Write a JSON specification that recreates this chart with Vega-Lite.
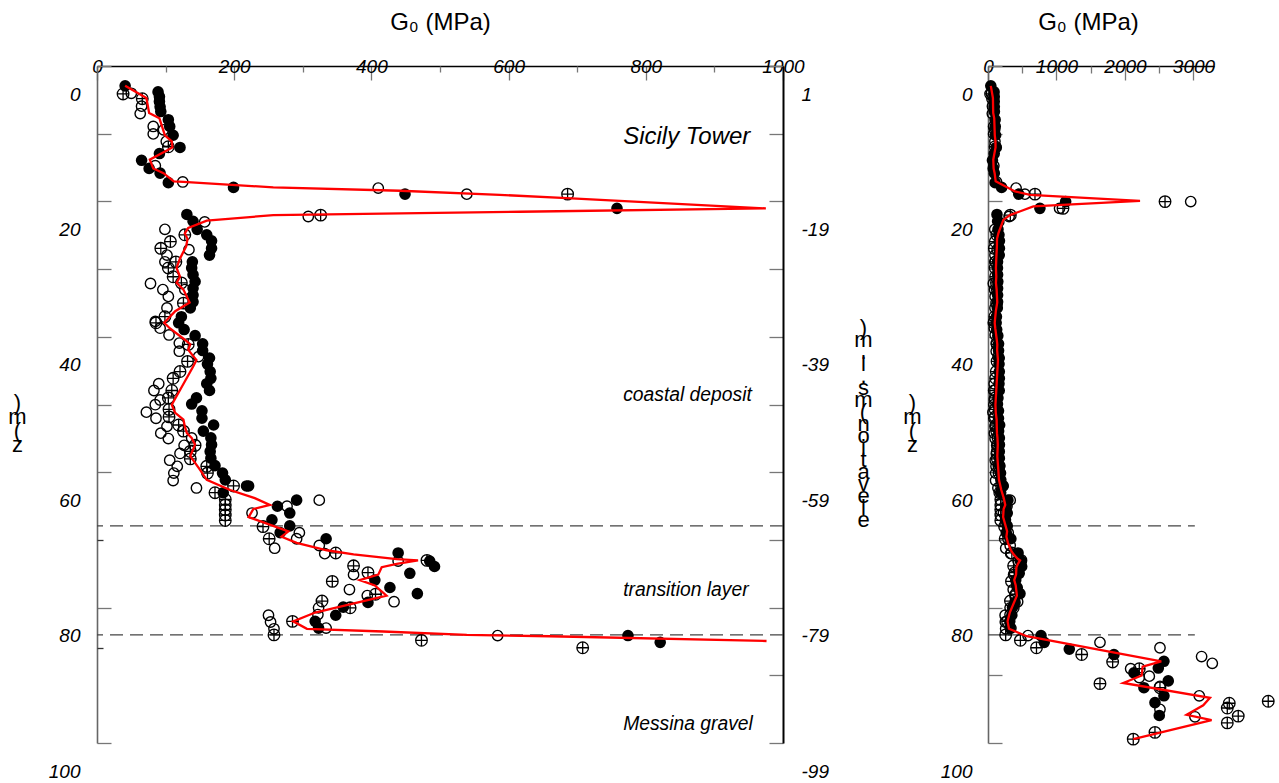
{
  "$schema": "https://vega.github.io/schema/vega-lite/v6.json",
  "background": "white",
  "padding": {"left": 7, "top": 10, "right": 5, "bottom": 5},
  "config": {
    "view": {"stroke": null},
    "font": "Liberation Sans",
    "axis": {
      "grid": false,
      "labelFont": "Liberation Sans",
      "labelFontStyle": "italic",
      "labelFontSize": 19,
      "labelColor": "black",
      "titleFont": "Liberation Sans",
      "titleFontWeight": "normal",
      "titleColor": "black",
      "tickColor": "#777",
      "tickWidth": 1.3,
      "domainWidth": 1.5,
      "labelOverlap": false,
      "labelFlush": false,
      "labelBound": false
    }
  },
  "datasets": {
    "obs": [
      {"z": -1.2, "g0": 41, "marker": "filled"}, {"z": -0.3, "g0": 89, "marker": "filled"}, {"z": 0.4, "g0": 91, "marker": "filled"},
      {"z": 1.1, "g0": 91, "marker": "filled"}, {"z": 1.9, "g0": 92, "marker": "filled"}, {"z": 2.6, "g0": 93, "marker": "filled"},
      {"z": 3.8, "g0": 104, "marker": "filled"}, {"z": 4.8, "g0": 106, "marker": "filled"}, {"z": 6.1, "g0": 111, "marker": "filled"},
      {"z": 7.9, "g0": 121, "marker": "filled"}, {"z": 8.8, "g0": 91, "marker": "filled"}, {"z": 9.8, "g0": 65, "marker": "filled"},
      {"z": 11.0, "g0": 76, "marker": "filled"}, {"z": 11.7, "g0": 92, "marker": "filled"}, {"z": 13.1, "g0": 104, "marker": "filled"},
      {"z": 13.8, "g0": 199, "marker": "filled"}, {"z": 14.8, "g0": 449, "marker": "filled"}, {"z": 16.9, "g0": 758, "marker": "filled"},
      {"z": 15.9, "g0": 1134, "marker": "filled"},
      {"z": 17.8, "g0": 131, "marker": "filled"}, {"z": 18.8, "g0": 140, "marker": "filled"}, {"z": 20.0, "g0": 146, "marker": "filled"},
      {"z": 20.8, "g0": 160, "marker": "filled"}, {"z": 21.7, "g0": 167, "marker": "filled"}, {"z": 22.8, "g0": 167, "marker": "filled"},
      {"z": 23.8, "g0": 164, "marker": "filled"}, {"z": 24.8, "g0": 139, "marker": "filled"}, {"z": 25.7, "g0": 138, "marker": "filled"},
      {"z": 26.7, "g0": 140, "marker": "filled"}, {"z": 27.7, "g0": 143, "marker": "filled"}, {"z": 28.7, "g0": 140, "marker": "filled"},
      {"z": 29.7, "g0": 140, "marker": "filled"}, {"z": 30.7, "g0": 140, "marker": "filled"}, {"z": 31.6, "g0": 136, "marker": "filled"},
      {"z": 32.9, "g0": 123, "marker": "filled"}, {"z": 33.8, "g0": 119, "marker": "filled"}, {"z": 34.8, "g0": 127, "marker": "filled"},
      {"z": 35.7, "g0": 143, "marker": "filled"}, {"z": 36.9, "g0": 154, "marker": "filled"}, {"z": 37.9, "g0": 154, "marker": "filled"},
      {"z": 39.0, "g0": 164, "marker": "filled"}, {"z": 39.9, "g0": 161, "marker": "filled"}, {"z": 41.0, "g0": 165, "marker": "filled"},
      {"z": 42.0, "g0": 166, "marker": "filled"}, {"z": 42.8, "g0": 160, "marker": "filled"}, {"z": 43.8, "g0": 164, "marker": "filled"},
      {"z": 44.9, "g0": 145, "marker": "filled"}, {"z": 45.8, "g0": 138, "marker": "filled"}, {"z": 46.8, "g0": 153, "marker": "filled"},
      {"z": 47.9, "g0": 153, "marker": "filled"}, {"z": 48.9, "g0": 170, "marker": "filled"}, {"z": 49.8, "g0": 155, "marker": "filled"},
      {"z": 50.8, "g0": 166, "marker": "filled"}, {"z": 51.8, "g0": 167, "marker": "filled"}, {"z": 52.8, "g0": 165, "marker": "filled"},
      {"z": 53.8, "g0": 166, "marker": "filled"}, {"z": 54.9, "g0": 172, "marker": "filled"}, {"z": 56.0, "g0": 183, "marker": "filled"},
      {"z": 57.0, "g0": 187, "marker": "filled"}, {"z": 57.9, "g0": 218, "marker": "filled"}, {"z": 57.9, "g0": 221, "marker": "filled"},
      {"z": 58.9, "g0": 184, "marker": "filled"}, {"z": 60.0, "g0": 291, "marker": "filled"}, {"z": 60.9, "g0": 263, "marker": "filled"},
      {"z": 61.9, "g0": 281, "marker": "filled"}, {"z": 62.9, "g0": 255, "marker": "filled"}, {"z": 63.8, "g0": 281, "marker": "filled"},
      {"z": 64.8, "g0": 267, "marker": "filled"}, {"z": 65.7, "g0": 334, "marker": "filled"}, {"z": 67.8, "g0": 439, "marker": "filled"},
      {"z": 69.0, "g0": 485, "marker": "filled"}, {"z": 69.8, "g0": 492, "marker": "filled"}, {"z": 70.8, "g0": 456, "marker": "filled"},
      {"z": 71.8, "g0": 405, "marker": "filled"}, {"z": 72.9, "g0": 427, "marker": "filled"}, {"z": 73.8, "g0": 467, "marker": "filled"},
      {"z": 75.1, "g0": 395, "marker": "filled"}, {"z": 75.8, "g0": 359, "marker": "filled"}, {"z": 77.0, "g0": 348, "marker": "filled"},
      {"z": 77.9, "g0": 318, "marker": "filled"}, {"z": 78.9, "g0": 323, "marker": "filled"}, {"z": 80.0, "g0": 774, "marker": "filled"},
      {"z": 81.0, "g0": 821, "marker": "filled"}, {"z": 82.0, "g0": 1187, "marker": "filled"}, {"z": 82.8, "g0": 1839, "marker": "filled"},
      {"z": 83.8, "g0": 2569, "marker": "filled"}, {"z": 84.8, "g0": 2487, "marker": "filled"}, {"z": 85.5, "g0": 2131, "marker": "filled"},
      {"z": 86.7, "g0": 2632, "marker": "filled"}, {"z": 87.7, "g0": 2277, "marker": "filled"}, {"z": 88.9, "g0": 2569, "marker": "filled"},
      {"z": 89.9, "g0": 2438, "marker": "filled"}, {"z": 91.8, "g0": 2501, "marker": "filled"},

      {"z": -0.1, "g0": 50, "marker": "open"}, {"z": 1.8, "g0": 65, "marker": "open"}, {"z": 2.9, "g0": 63, "marker": "open"},
      {"z": 4.8, "g0": 82, "marker": "open"}, {"z": 5.9, "g0": 82, "marker": "open"}, {"z": 5.3, "g0": 97, "marker": "open"},
      {"z": 7.0, "g0": 101, "marker": "open"}, {"z": 10.6, "g0": 85, "marker": "open"}, {"z": 13.0, "g0": 125, "marker": "open"},
      {"z": 13.9, "g0": 410, "marker": "open"}, {"z": 14.8, "g0": 539, "marker": "open"}, {"z": 16.9, "g0": 1045, "marker": "open"},
      {"z": 15.9, "g0": 2960, "marker": "open"}, {"z": 18.1, "g0": 308, "marker": "open"}, {"z": 18.9, "g0": 157, "marker": "open"},
      {"z": 20.0, "g0": 99, "marker": "open"}, {"z": 23.0, "g0": 134, "marker": "open"}, {"z": 23.8, "g0": 102, "marker": "open"},
      {"z": 24.8, "g0": 99, "marker": "open"}, {"z": 28.0, "g0": 78, "marker": "open"}, {"z": 28.9, "g0": 96, "marker": "open"},
      {"z": 29.9, "g0": 104, "marker": "open"}, {"z": 28.9, "g0": 128, "marker": "open"}, {"z": 31.6, "g0": 102, "marker": "open"},
      {"z": 33.6, "g0": 85, "marker": "open"}, {"z": 34.6, "g0": 92, "marker": "open"}, {"z": 35.6, "g0": 105, "marker": "open"},
      {"z": 36.8, "g0": 120, "marker": "open"}, {"z": 38.0, "g0": 120, "marker": "open"}, {"z": 38.8, "g0": 148, "marker": "open"},
      {"z": 42.8, "g0": 90, "marker": "open"}, {"z": 43.8, "g0": 83, "marker": "open"}, {"z": 45.2, "g0": 92, "marker": "open"},
      {"z": 45.9, "g0": 85, "marker": "open"}, {"z": 47.0, "g0": 72, "marker": "open"}, {"z": 47.9, "g0": 86, "marker": "open"},
      {"z": 49.1, "g0": 102, "marker": "open"}, {"z": 50.1, "g0": 93, "marker": "open"}, {"z": 50.9, "g0": 104, "marker": "open"},
      {"z": 50.8, "g0": 138, "marker": "open"}, {"z": 51.9, "g0": 127, "marker": "open"}, {"z": 53.1, "g0": 121, "marker": "open"},
      {"z": 54.1, "g0": 106, "marker": "open"}, {"z": 55.0, "g0": 117, "marker": "open"}, {"z": 56.0, "g0": 112, "marker": "open"},
      {"z": 57.1, "g0": 111, "marker": "open"}, {"z": 58.2, "g0": 145, "marker": "open"}, {"z": 60.0, "g0": 324, "marker": "open"},
      {"z": 60.9, "g0": 277, "marker": "open"}, {"z": 61.9, "g0": 226, "marker": "open"}, {"z": 64.8, "g0": 295, "marker": "open"},
      {"z": 65.7, "g0": 291, "marker": "open"}, {"z": 67.1, "g0": 259, "marker": "open"}, {"z": 66.7, "g0": 324, "marker": "open"},
      {"z": 67.9, "g0": 332, "marker": "open"}, {"z": 69.0, "g0": 439, "marker": "open"}, {"z": 71.0, "g0": 374, "marker": "open"},
      {"z": 73.2, "g0": 368, "marker": "open"}, {"z": 74.1, "g0": 394, "marker": "open"}, {"z": 75.0, "g0": 433, "marker": "open"},
      {"z": 75.9, "g0": 323, "marker": "open"}, {"z": 76.9, "g0": 322, "marker": "open"}, {"z": 78.9, "g0": 334, "marker": "open"},
      {"z": 77.0, "g0": 250, "marker": "open"}, {"z": 78.0, "g0": 253, "marker": "open"}, {"z": 79.0, "g0": 258, "marker": "open"},
      {"z": 80.0, "g0": 584, "marker": "open"}, {"z": 81.0, "g0": 1635, "marker": "open"}, {"z": 81.8, "g0": 2511, "marker": "open"},
      {"z": 83.1, "g0": 3119, "marker": "open"}, {"z": 84.1, "g0": 3275, "marker": "open"}, {"z": 84.9, "g0": 2083, "marker": "open"},
      {"z": 86.2, "g0": 2209, "marker": "open"}, {"z": 86.0, "g0": 2355, "marker": "open"}, {"z": 87.5, "g0": 2511, "marker": "open"},
      {"z": 88.9, "g0": 3085, "marker": "open"}, {"z": 90.9, "g0": 2511, "marker": "open"}, {"z": 92.0, "g0": 3022, "marker": "open"},

      {"z": 0.0, "g0": 38, "marker": "crossed"}, {"z": 0.7, "g0": 66, "marker": "crossed"}, {"z": 7.8, "g0": 104, "marker": "crossed"},
      {"z": 14.8, "g0": 686, "marker": "crossed"}, {"z": 16.9, "g0": 1095, "marker": "crossed"}, {"z": 15.9, "g0": 2585, "marker": "crossed"},
      {"z": 17.9, "g0": 326, "marker": "crossed"}, {"z": 20.8, "g0": 128, "marker": "crossed"}, {"z": 21.8, "g0": 107, "marker": "crossed"},
      {"z": 22.8, "g0": 93, "marker": "crossed"}, {"z": 24.8, "g0": 115, "marker": "crossed"}, {"z": 25.7, "g0": 104, "marker": "crossed"},
      {"z": 27.0, "g0": 111, "marker": "crossed"}, {"z": 27.9, "g0": 123, "marker": "crossed"}, {"z": 30.9, "g0": 126, "marker": "crossed"},
      {"z": 32.9, "g0": 99, "marker": "crossed"}, {"z": 33.8, "g0": 86, "marker": "crossed"}, {"z": 37.0, "g0": 133, "marker": "crossed"},
      {"z": 39.5, "g0": 132, "marker": "crossed"}, {"z": 41.0, "g0": 121, "marker": "crossed"}, {"z": 42.0, "g0": 111, "marker": "crossed"},
      {"z": 43.8, "g0": 109, "marker": "crossed"}, {"z": 44.9, "g0": 104, "marker": "crossed"}, {"z": 46.6, "g0": 105, "marker": "crossed"},
      {"z": 47.7, "g0": 105, "marker": "crossed"}, {"z": 48.9, "g0": 119, "marker": "crossed"}, {"z": 49.8, "g0": 126, "marker": "crossed"},
      {"z": 51.9, "g0": 143, "marker": "crossed"}, {"z": 52.8, "g0": 136, "marker": "crossed"}, {"z": 53.9, "g0": 136, "marker": "crossed"},
      {"z": 55.0, "g0": 160, "marker": "crossed"}, {"z": 56.0, "g0": 161, "marker": "crossed"}, {"z": 57.9, "g0": 199, "marker": "crossed"},
      {"z": 58.9, "g0": 172, "marker": "crossed"}, {"z": 59.9, "g0": 187, "marker": "crossed"}, {"z": 60.7, "g0": 187, "marker": "crossed"},
      {"z": 61.4, "g0": 187, "marker": "crossed"}, {"z": 62.2, "g0": 187, "marker": "crossed"}, {"z": 63.0, "g0": 187, "marker": "crossed"},
      {"z": 63.9, "g0": 242, "marker": "crossed"}, {"z": 65.7, "g0": 251, "marker": "crossed"}, {"z": 67.8, "g0": 348, "marker": "crossed"},
      {"z": 68.9, "g0": 481, "marker": "crossed"}, {"z": 69.7, "g0": 374, "marker": "crossed"}, {"z": 70.7, "g0": 395, "marker": "crossed"},
      {"z": 72.0, "g0": 343, "marker": "crossed"}, {"z": 73.9, "g0": 406, "marker": "crossed"}, {"z": 74.9, "g0": 328, "marker": "crossed"},
      {"z": 75.9, "g0": 369, "marker": "crossed"}, {"z": 77.9, "g0": 285, "marker": "crossed"}, {"z": 79.9, "g0": 258, "marker": "crossed"},
      {"z": 80.7, "g0": 473, "marker": "crossed"}, {"z": 81.8, "g0": 708, "marker": "crossed"}, {"z": 82.8, "g0": 1368, "marker": "crossed"},
      {"z": 83.9, "g0": 1820, "marker": "crossed"}, {"z": 84.9, "g0": 2209, "marker": "crossed"}, {"z": 87.1, "g0": 1635, "marker": "crossed"},
      {"z": 87.7, "g0": 2511, "marker": "crossed"}, {"z": 90.0, "g0": 3523, "marker": "crossed"}, {"z": 90.7, "g0": 3494, "marker": "crossed"},
      {"z": 89.7, "g0": 4092, "marker": "crossed"}, {"z": 91.9, "g0": 3654, "marker": "crossed"}, {"z": 92.9, "g0": 3494, "marker": "crossed"},
      {"z": 94.3, "g0": 2438, "marker": "crossed"}, {"z": 95.3, "g0": 2121, "marker": "crossed"}
    ],
    "profile_shallow": [
      {"z": -1.2, "g0": 41}, {"z": 0.6, "g0": 72}, {"z": 2.8, "g0": 76}, {"z": 3.6, "g0": 91}, {"z": 6.1, "g0": 99},
      {"z": 7.0, "g0": 109}, {"z": 7.9, "g0": 110}, {"z": 9.7, "g0": 77}, {"z": 11.0, "g0": 82}, {"z": 11.7, "g0": 97},
      {"z": 12.9, "g0": 112}, {"z": 13.0, "g0": 126}, {"z": 13.8, "g0": 257}, {"z": 14.3, "g0": 442}, {"z": 14.9, "g0": 587},
      {"z": 15.4, "g0": 685}, {"z": 16.9, "g0": 975}, {"z": 17.4, "g0": 617}, {"z": 17.9, "g0": 257}, {"z": 18.7, "g0": 160},
      {"z": 19.8, "g0": 133}, {"z": 20.6, "g0": 128}, {"z": 21.4, "g0": 132}, {"z": 22.5, "g0": 130}, {"z": 24.3, "g0": 121},
      {"z": 25.7, "g0": 116}, {"z": 27.0, "g0": 121}, {"z": 27.9, "g0": 116}, {"z": 28.9, "g0": 126}, {"z": 30.8, "g0": 135},
      {"z": 32.1, "g0": 114}, {"z": 33.8, "g0": 98}, {"z": 34.6, "g0": 106}, {"z": 36.3, "g0": 128}, {"z": 37.0, "g0": 136},
      {"z": 37.8, "g0": 133}, {"z": 39.3, "g0": 145}, {"z": 40.3, "g0": 140}, {"z": 45.9, "g0": 109}, {"z": 47.1, "g0": 114},
      {"z": 48.1, "g0": 126}, {"z": 49.1, "g0": 128}, {"z": 50.1, "g0": 131}, {"z": 50.8, "g0": 138}, {"z": 51.8, "g0": 143},
      {"z": 53.5, "g0": 136}, {"z": 54.5, "g0": 143}, {"z": 55.5, "g0": 150}, {"z": 57.0, "g0": 160}, {"z": 58.5, "g0": 194},
      {"z": 59.7, "g0": 230}, {"z": 60.7, "g0": 252}, {"z": 61.3, "g0": 228}, {"z": 62.5, "g0": 221}, {"z": 64.6, "g0": 279},
      {"z": 65.4, "g0": 269}, {"z": 66.3, "g0": 291}, {"z": 67.4, "g0": 335}, {"z": 68.0, "g0": 374}, {"z": 68.7, "g0": 437},
      {"z": 68.9, "g0": 468}, {"z": 69.4, "g0": 437}, {"z": 69.9, "g0": 415}, {"z": 71.0, "g0": 410}, {"z": 71.8, "g0": 383},
      {"z": 72.6, "g0": 405}, {"z": 74.1, "g0": 422}, {"z": 76.6, "g0": 318}, {"z": 77.9, "g0": 286}, {"z": 79.0, "g0": 306},
      {"z": 79.4, "g0": 417}, {"z": 79.9, "g0": 539}, {"z": 80.1, "g0": 660}, {"z": 80.8, "g0": 976}
    ],
    "profile_full": [
      {"z": -1.2, "g0": 41}, {"z": 0.6, "g0": 72}, {"z": 2.8, "g0": 76}, {"z": 3.6, "g0": 91}, {"z": 6.1, "g0": 99},
      {"z": 7.0, "g0": 109}, {"z": 7.9, "g0": 110}, {"z": 9.7, "g0": 77}, {"z": 11.0, "g0": 82}, {"z": 11.7, "g0": 97},
      {"z": 12.9, "g0": 112}, {"z": 14.4, "g0": 394}, {"z": 14.9, "g0": 613}, {"z": 15.8, "g0": 2220}, {"z": 16.6, "g0": 662},
      {"z": 17.9, "g0": 321}, {"z": 18.6, "g0": 224}, {"z": 20.6, "g0": 151}, {"z": 21.4, "g0": 132}, {"z": 22.5, "g0": 130},
      {"z": 24.3, "g0": 121}, {"z": 25.7, "g0": 116}, {"z": 27.0, "g0": 121}, {"z": 27.9, "g0": 116}, {"z": 28.9, "g0": 126},
      {"z": 30.8, "g0": 135}, {"z": 32.1, "g0": 114}, {"z": 33.8, "g0": 98}, {"z": 34.6, "g0": 106}, {"z": 36.3, "g0": 128},
      {"z": 37.0, "g0": 136}, {"z": 37.8, "g0": 133}, {"z": 39.3, "g0": 145}, {"z": 40.3, "g0": 140}, {"z": 45.9, "g0": 109},
      {"z": 47.1, "g0": 114}, {"z": 48.1, "g0": 126}, {"z": 49.1, "g0": 128}, {"z": 50.1, "g0": 131}, {"z": 50.8, "g0": 138},
      {"z": 51.8, "g0": 143}, {"z": 53.5, "g0": 136}, {"z": 54.5, "g0": 143}, {"z": 55.5, "g0": 150}, {"z": 57.0, "g0": 160},
      {"z": 58.5, "g0": 194}, {"z": 59.7, "g0": 230}, {"z": 60.7, "g0": 252}, {"z": 61.3, "g0": 228}, {"z": 62.5, "g0": 221},
      {"z": 64.6, "g0": 279}, {"z": 65.4, "g0": 269}, {"z": 66.3, "g0": 291}, {"z": 67.4, "g0": 335}, {"z": 68.0, "g0": 374},
      {"z": 68.7, "g0": 437}, {"z": 68.9, "g0": 468}, {"z": 69.4, "g0": 437}, {"z": 69.9, "g0": 415}, {"z": 71.0, "g0": 410},
      {"z": 71.8, "g0": 383}, {"z": 72.6, "g0": 405}, {"z": 74.1, "g0": 422}, {"z": 76.6, "g0": 318}, {"z": 77.9, "g0": 286},
      {"z": 79.0, "g0": 306}, {"z": 80.1, "g0": 565}, {"z": 83.8, "g0": 2530}, {"z": 84.6, "g0": 2258}, {"z": 85.9, "g0": 2244},
      {"z": 87.0, "g0": 1975}, {"z": 89.2, "g0": 3241}, {"z": 90.3, "g0": 3143}, {"z": 91.7, "g0": 2900}, {"z": 92.5, "g0": 3265},
      {"z": 95.3, "g0": 2121}
    ],
    "boundaries": [{"z": 63.8}, {"z": 79.9}],
    "site": [{"label": "Sicily Tower", "g0": 767, "z": 6.3}],
    "units": [
      {"label": "coastal deposit", "g0": 767, "z": 44.4},
      {"label": "transition layer", "g0": 767, "z": 73.2},
      {"label": "Messina gravel", "g0": 767, "z": 93.0}
    ]
  },
  "bounds": "flush",
  "spacing": 205,
  "hconcat": [
    {
      "width": 686,
      "height": 677,
      "resolve": {"axis": {"x": "independent", "y": "independent"}},
      "layer": [
        {
          "data": {"name": "boundaries"},
          "mark": {"type": "rule", "color": "#444", "strokeWidth": 1.2, "strokeDash": [13, 7]},
          "encoding": {
            "y": {
              "field": "z", "type": "quantitative",
              "scale": {"domain": [-4.13, 95.87], "reverse": true, "nice": false, "zero": false},
              "axis": {
                "orient": "right",
                "values": [-4.13, 5.87, 15.87, 25.87, 35.87, 45.87, 55.87, 65.87, 75.87, 85.87, 95.87],
                "labelExpr": "round(datum.value + 4.13) % 20 == 0 ? '' + (1 - round(datum.value + 4.13)) : ''",
                "labelOffset": 28,
                "tickSize": -14,
                "labelPadding": 32,
                "labelAlign": "left",
                "labelBaseline": "middle",
                "domainColor": "black",
                "domainWidth": 2,
                "title": [")", "m", ".", "l", ".", "s", "m", "(", "n", "o", "i", "t", "a", "v", "e", "l", "e"],
                "titleAngle": 0,
                "titleX": 80,
                "titleY": 251,
                "titleAlign": "center",
                "titleBaseline": "top",
                "titleFontSize": 22,
                "titleLineHeight": 12
              }
            }
          }
        },
        {
          "data": {"name": "obs"},
          "transform": [{"filter": "datum.marker == 'filled' && datum.g0 <= 1000"}],
          "mark": {"type": "point", "shape": "circle", "filled": true, "color": "black", "size": 135, "opacity": 1},
          "encoding": {
            "x": {
              "field": "g0", "type": "quantitative",
              "scale": {"domain": [0, 1000], "nice": false, "zero": false},
              "axis": {
                "orient": "top",
                "values": [0, 200, 400, 600, 800, 1000],
                "format": "d",
                "tickSize": -14,
                "labelPadding": 14,
                "labelBaseline": "middle",
                "labelAlign": "center",
                "domainColor": "black",
                "domainWidth": 1.3,
                "title": "G₀ (MPa)",
                "titleX": 343,
                "titleY": -44,
                "titleAlign": "center",
                "titleBaseline": "middle",
                "titleFontSize": 24
              }
            },
            "y": {
              "field": "z", "type": "quantitative",
              "scale": {"domain": [-4.13, 95.87], "reverse": true, "nice": false, "zero": false},
              "axis": {
                "orient": "left",
                "values": [-4.13, 5.87, 15.87, 25.87, 35.87, 45.87, 55.87, 75.87, 95.87],
                "labelExpr": "round(datum.value + 4.13) % 20 == 0 ? '' + round(datum.value + 4.13) : ''",
                "labelOffset": 28,
                "tickSize": -14,
                "labelPadding": 31,
                "labelAlign": "right",
                "labelBaseline": "middle",
                "domainColor": "#666",
                "domainWidth": 1.6,
                "title": [")", "m", "(", "z"],
                "titleAngle": 0,
                "titleX": -80,
                "titleY": 326,
                "titleAlign": "center",
                "titleBaseline": "top",
                "titleFontSize": 22,
                "titleLineHeight": 14
              }
            }
          }
        },
        {
          "data": {"name": "obs"},
          "transform": [{"filter": "datum.marker == 'open' && datum.g0 <= 1000"}],
          "mark": {"type": "point", "shape": "circle", "filled": false, "stroke": "black", "strokeWidth": 1.4, "size": 108, "opacity": 1},
          "encoding": {
            "x": {
              "field": "g0", "type": "quantitative",
              "scale": {"domain": [0, 1000], "nice": false, "zero": false},
              "axis": {"orient": "top", "values": [100, 300, 500, 700, 900], "tickSize": -6, "labels": false, "domain": false, "title": null}
            },
            "y": {
              "field": "z", "type": "quantitative",
              "scale": {"domain": [-4.13, 95.87], "reverse": true, "nice": false, "zero": false},
              "axis": null
            }
          }
        },
        {
          "data": {"name": "obs"},
          "transform": [{"filter": "datum.marker == 'crossed' && datum.g0 <= 1000"}],
          "mark": {"type": "point", "shape": "M-1,0A1,1,0,1,1,1,0A1,1,0,1,1,-1,0ZM-1,0L1,0M0,-1L0,1", "filled": false, "stroke": "black", "strokeWidth": 1.3, "size": 135, "opacity": 1},
          "encoding": {
            "x": {
              "field": "g0", "type": "quantitative",
              "scale": {"domain": [0, 1000], "nice": false, "zero": false},
              "axis": null
            },
            "y": {
              "field": "z", "type": "quantitative",
              "scale": {"domain": [-4.13, 95.87], "reverse": true, "nice": false, "zero": false},
              "axis": {"orient": "left", "values": [65.87, 81.9], "tickSize": -6, "tickColor": "#333", "labels": false, "domain": false, "title": null}
            }
          }
        },
        {
          "data": {"name": "profile_shallow"},
          "mark": {"type": "line", "color": "#ff0000", "strokeWidth": 2.3},
          "encoding": {
            "x": {"field": "g0", "type": "quantitative", "scale": {"domain": [0, 1000], "nice": false, "zero": false}, "axis": null},
            "y": {"field": "z", "type": "quantitative", "scale": {"domain": [-4.13, 95.87], "reverse": true, "nice": false, "zero": false}, "axis": null},
            "order": {"field": "z", "type": "quantitative"}
          }
        },
        {
          "data": {"name": "site"},
          "mark": {"type": "text", "align": "left", "baseline": "middle", "font": "Liberation Sans", "fontStyle": "italic", "fontSize": 24, "color": "black"},
          "encoding": {
            "x": {"field": "g0", "type": "quantitative", "scale": {"domain": [0, 1000], "nice": false, "zero": false}, "axis": null},
            "y": {"field": "z", "type": "quantitative", "scale": {"domain": [-4.13, 95.87], "reverse": true, "nice": false, "zero": false}, "axis": null},
            "text": {"field": "label"}
          }
        },
        {
          "data": {"name": "units"},
          "mark": {"type": "text", "align": "left", "baseline": "middle", "font": "Liberation Sans", "fontStyle": "italic", "fontSize": 19.3, "color": "black"},
          "encoding": {
            "x": {"field": "g0", "type": "quantitative", "scale": {"domain": [0, 1000], "nice": false, "zero": false}, "axis": null},
            "y": {"field": "z", "type": "quantitative", "scale": {"domain": [-4.13, 95.87], "reverse": true, "nice": false, "zero": false}, "axis": null},
            "text": {"field": "label"}
          }
        }
      ]
    },
    {
      "width": 226,
      "height": 677,
      "resolve": {"axis": {"x": "independent", "y": "independent"}},
      "layer": [
        {
          "data": {"name": "boundaries"},
          "mark": {"type": "rule", "color": "#444", "strokeWidth": 1.2, "strokeDash": [13, 7]},
          "encoding": {
            "x": {"datum": 0, "type": "quantitative", "scale": {"domain": [0, 3300], "nice": false, "zero": false}, "axis": null},
            "x2": {"datum": 3020},
            "y": {"field": "z", "type": "quantitative", "scale": {"domain": [-4.13, 95.87], "reverse": true, "nice": false, "zero": false}, "axis": null}
          }
        },
        {
          "data": {"name": "obs"},
          "transform": [{"filter": "datum.marker == 'filled'"}],
          "mark": {"type": "point", "shape": "circle", "filled": true, "color": "black", "size": 135, "opacity": 1},
          "encoding": {
            "x": {
              "field": "g0", "type": "quantitative",
              "scale": {"domain": [0, 3300], "nice": false, "zero": false},
              "axis": {
                "orient": "top",
                "values": [0, 1000, 2000, 3000],
                "format": "d",
                "tickSize": -14,
                "labelPadding": 14,
                "labelBaseline": "middle",
                "labelAlign": "center",
                "domainColor": "black",
                "domainWidth": 1.3,
                "title": "G₀ (MPa)",
                "titleX": 100,
                "titleY": -44,
                "titleAlign": "center",
                "titleBaseline": "middle",
                "titleFontSize": 24
              }
            },
            "y": {
              "field": "z", "type": "quantitative",
              "scale": {"domain": [-4.13, 95.87], "reverse": true, "nice": false, "zero": false},
              "axis": {
                "orient": "left",
                "values": [-4.13, 5.87, 15.87, 25.87, 35.87, 45.87, 55.87, 65.87, 75.87, 85.87, 95.87],
                "labelExpr": "round(datum.value + 4.13) % 20 == 0 ? '' + round(datum.value + 4.13) : ''",
                "labelOffset": 28,
                "tickSize": -14,
                "labelPadding": 30,
                "labelAlign": "right",
                "labelBaseline": "middle",
                "domainColor": "#666",
                "domainWidth": 1.6,
                "title": [")", "m", "(", "z"],
                "titleAngle": 0,
                "titleX": -76,
                "titleY": 326,
                "titleAlign": "center",
                "titleBaseline": "top",
                "titleFontSize": 22,
                "titleLineHeight": 14
              }
            }
          }
        },
        {
          "data": {"name": "obs"},
          "transform": [{"filter": "datum.marker == 'open'"}],
          "mark": {"type": "point", "shape": "circle", "filled": false, "stroke": "black", "strokeWidth": 1.4, "size": 108, "opacity": 1},
          "encoding": {
            "x": {
              "field": "g0", "type": "quantitative",
              "scale": {"domain": [0, 3300], "nice": false, "zero": false},
              "axis": {"orient": "top", "values": [500, 1500, 2500], "tickSize": -7, "labels": false, "domain": false, "title": null}
            },
            "y": {"field": "z", "type": "quantitative", "scale": {"domain": [-4.13, 95.87], "reverse": true, "nice": false, "zero": false}, "axis": null}
          }
        },
        {
          "data": {"name": "obs"},
          "transform": [{"filter": "datum.marker == 'crossed'"}],
          "mark": {"type": "point", "shape": "M-1,0A1,1,0,1,1,1,0A1,1,0,1,1,-1,0ZM-1,0L1,0M0,-1L0,1", "filled": false, "stroke": "black", "strokeWidth": 1.3, "size": 135, "opacity": 1},
          "encoding": {
            "x": {"field": "g0", "type": "quantitative", "scale": {"domain": [0, 3300], "nice": false, "zero": false}, "axis": null},
            "y": {"field": "z", "type": "quantitative", "scale": {"domain": [-4.13, 95.87], "reverse": true, "nice": false, "zero": false}, "axis": null}
          }
        },
        {
          "data": {"name": "profile_full"},
          "mark": {"type": "line", "color": "#ff0000", "strokeWidth": 2.3},
          "encoding": {
            "x": {"field": "g0", "type": "quantitative", "scale": {"domain": [0, 3300], "nice": false, "zero": false}, "axis": null},
            "y": {"field": "z", "type": "quantitative", "scale": {"domain": [-4.13, 95.87], "reverse": true, "nice": false, "zero": false}, "axis": null},
            "order": {"field": "z", "type": "quantitative"}
          }
        }
      ]
    }
  ]
}
